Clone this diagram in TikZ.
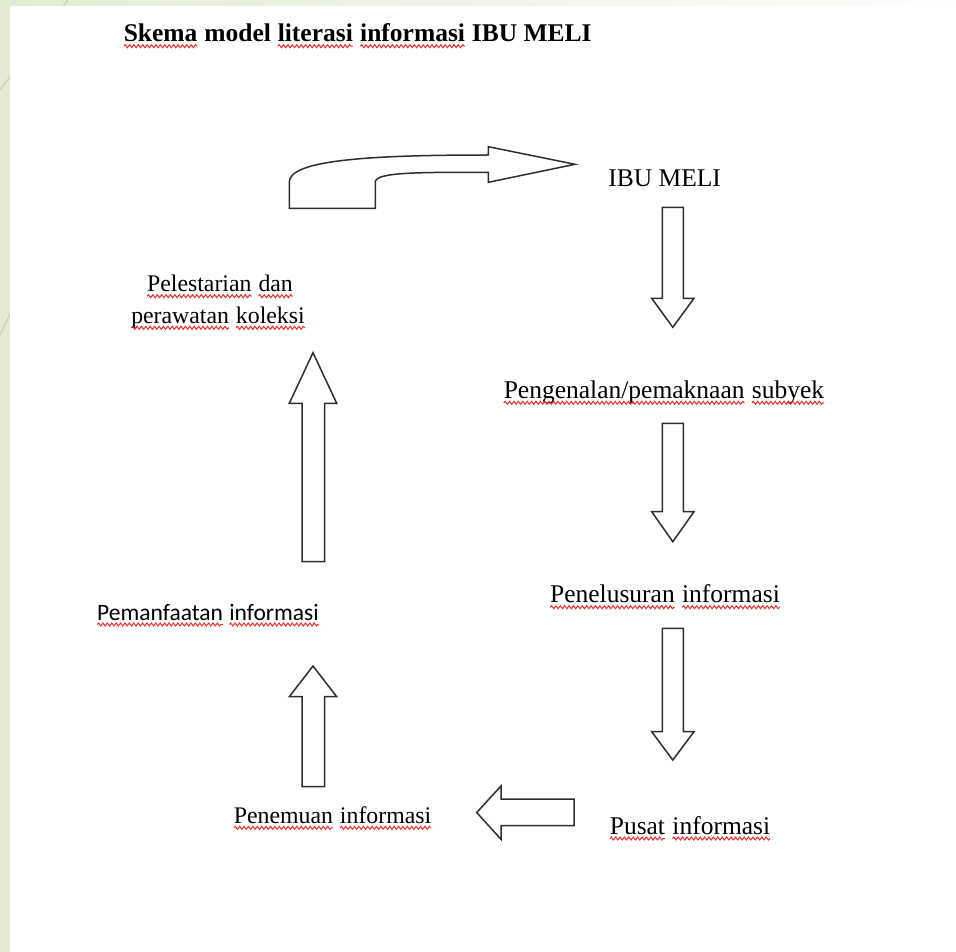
\documentclass[tikz,border=0pt]{standalone}
\usepackage{fontspec}
\setmainfont{Liberation Serif}
\newfontfamily\calfont{Carlito}
\usetikzlibrary{decorations.pathmorphing}
\definecolor{bggreen}{HTML}{E3EBD3}
\definecolor{bgline}{HTML}{C3CEAE}
\definecolor{squigred}{HTML}{E8302C}
\definecolor{arrowline}{HTML}{2E2E2E}
\tikzset{
  squig/.style={squigred,line width=1pt,decorate,decoration={snake,amplitude=1.5pt,segment length=4.4pt}},
  blockarrow/.style={draw=arrowline,line width=1.5pt,fill=white,line join=miter},
  lbl/.style={inner sep=0pt,outer sep=0pt,font=\fontsize{25.5}{30}\selectfont},
  lblsmall/.style={inner sep=0pt,outer sep=0pt,font=\fontsize{23.8}{28}\selectfont},
  lblsans/.style={inner sep=0pt,outer sep=0pt,font=\calfont\fontsize{23.5}{28}\selectfont},
}
\newcommand\sq[1]{\tikz[baseline=(w.base)]{\node[inner sep=0pt,outer sep=0pt](w){#1};\draw[squig]([yshift=-4.5pt]w.base west)--([yshift=-4.5pt]w.base east);}}
\begin{document}
\begin{tikzpicture}[x=1pt,y=-1pt]
\useasboundingbox (0,0) rectangle (956,952);
% background
\fill[bggreen] (0,0) rectangle (956,952);
\shade[left color=bggreen,right color=white!96!bggreen] (0,0) rectangle (956,6);
\draw[bgline,line width=1pt] (0,90) -- (68,0);
\draw[bgline,line width=1pt] (0,335) -- (40,250);
\fill[white] (10,6) rectangle (956,952);
% texts
\node[lbl,anchor=base west,font=\bfseries\fontsize{25.5}{30}\selectfont] (title) at (123.3,41.7) {\sq{Skema} model \sq{literasi} \sq{informasi} IBU MELI};
\node[lbl,anchor=base west] (ibu) at (608.3,186.7) {IBU MELI};
\node[lblsmall,anchor=base] (pel1) at (220,291.7) {\sq{Pelestarian} \sq{dan}};
\node[lblsmall,anchor=base] (pel2) at (218,323.3) {\sq{perawatan} \sq{koleksi}};
\node[lbl,anchor=base west] (peng) at (503.3,398.3) {\sq{Pengenalan/pemaknaan} \sq{subyek}};
\node[lbl,anchor=base] (penel) at (665,602.7) {\sq{Penelusuran} \sq{informasi}};
\node[lbl,anchor=base] (pusat) at (690,834) {\sq{Pusat} \sq{informasi}};
\node[lblsmall,anchor=base east] (penem) at (431.7,823.3) {\sq{Penemuan} \sq{informasi}};
\node[lblsans,anchor=base west] (pem) at (96.7,620) {\sq{Pemanfaatan} \sq{informasi}};
% curved block arrow (pel -> ibu)
\draw[blockarrow] (289.3,208.3) -- (289.3,182)
  .. controls (289.3,160) and (370,155) .. (488.3,155)
  -- (488.3,146.7) -- (575,164.3) -- (488.3,182.3) -- (488.3,172.3)
  .. controls (420,172.3) and (375.3,172) .. (375.3,182)
  -- (375.3,208.3) -- cycle;
% down arrows on the right
\draw[blockarrow] (662.3,207.3) -- (683.3,207.3) -- (683.3,298.3) -- (694,298.3) -- (672.8,327.3) -- (651.7,298.3) -- (662.3,298.3) -- cycle;
\draw[blockarrow] (662.3,423.3) -- (683.3,423.3) -- (683.3,511.7) -- (694,511.7) -- (672.8,541.7) -- (651.7,511.7) -- (662.3,511.7) -- cycle;
\draw[blockarrow] (662.3,628.3) -- (683.3,628.3) -- (683.3,731.7) -- (694,731.7) -- (672.8,760) -- (651.7,731.7) -- (662.3,731.7) -- cycle;
% left arrow (pusat -> penemuan)
\draw[blockarrow] (574,799) -- (501,799) -- (501,786) -- (476.7,812.5) -- (501,839.3) -- (501,825.7) -- (574,825.7) -- cycle;
% up arrows on the left
\draw[blockarrow] (302,786.7) -- (324.7,786.7) -- (324.7,696.7) -- (336.7,696.7) -- (313,666) -- (289.3,696.7) -- (302,696.7) -- cycle;
\draw[blockarrow] (302,561.7) -- (324.7,561.7) -- (324.7,403.3) -- (336.7,403.3) -- (313,352.7) -- (289.3,403.3) -- (302,403.3) -- cycle;
\end{tikzpicture}
\end{document}
